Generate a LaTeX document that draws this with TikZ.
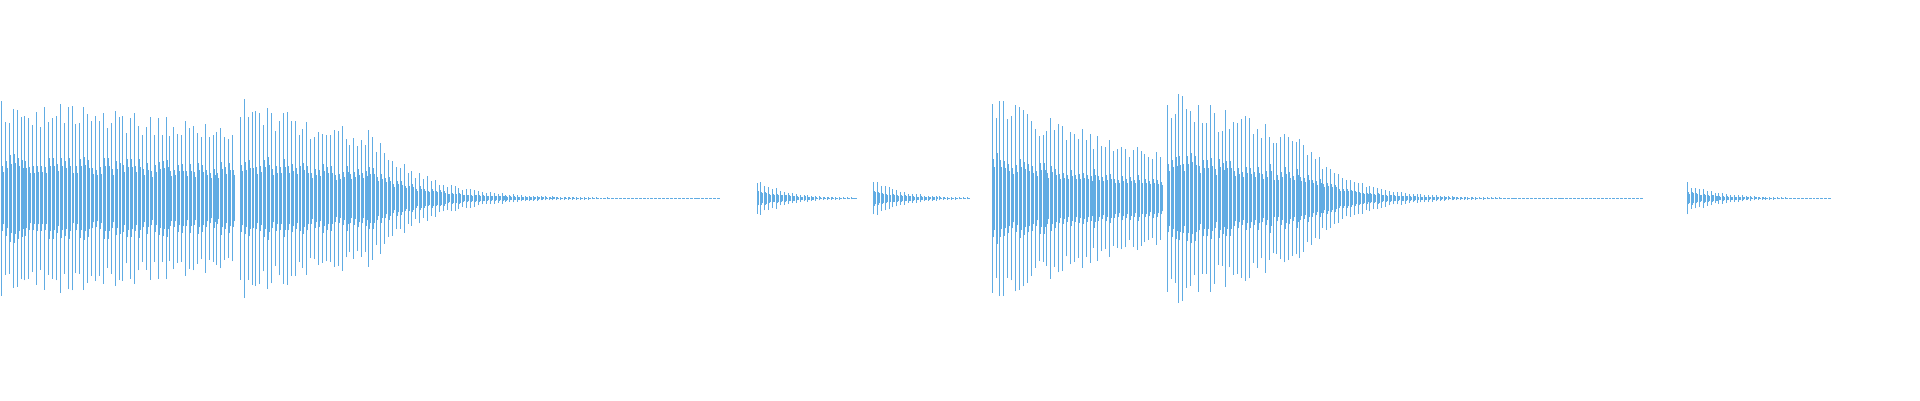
\documentclass[tikz,border=0pt]{standalone}
\definecolor{wave}{RGB}{97,172,227}
\newcommand\wburst[5]{%
 \foreach \x in {#1,#5,...,#2}{%
  \pgfmathsetmacro\a{#3*exp(-(\x-#1)/#4)*(0.72+0.28*rnd)+0.3}%
  \draw (\x,165-\a) -- (\x,165+\a);
  \pgfmathsetmacro\b{#3*exp(-(\x-#1)/#4)*(0.3+0.15*rnd)+0.3}%
  \draw (\x+0.8,165-\b) -- (\x+0.8,165+\b);
  \draw (\x+1.6,165-0.8*\b) -- (\x+1.6,165+0.8*\b);
 }}
\begin{document}
\begin{tikzpicture}[x=1pt,y=1pt,line width=0.4pt,wave]
\pgfmathsetseed{7}
\useasboundingbox (0,0) rectangle (1568,327);
\wburst{1}{190}{82}{820}{4.2}
\wburst{196}{300}{85}{240}{199.2}
\wburst{301}{588}{60}{40}{304.2}
\wburst{618}{700}{17}{22}{621.2}
\wburst{713}{790}{17}{22}{716.2}
\wburst{810}{948}{87}{177}{813.2}
\wburst{953}{1060}{90}{218}{956.2}
\wburst{1061}{1342}{55}{35}{1064.2}
\wburst{1378}{1495}{13}{25}{1381.2}
\end{tikzpicture}
\end{document}
